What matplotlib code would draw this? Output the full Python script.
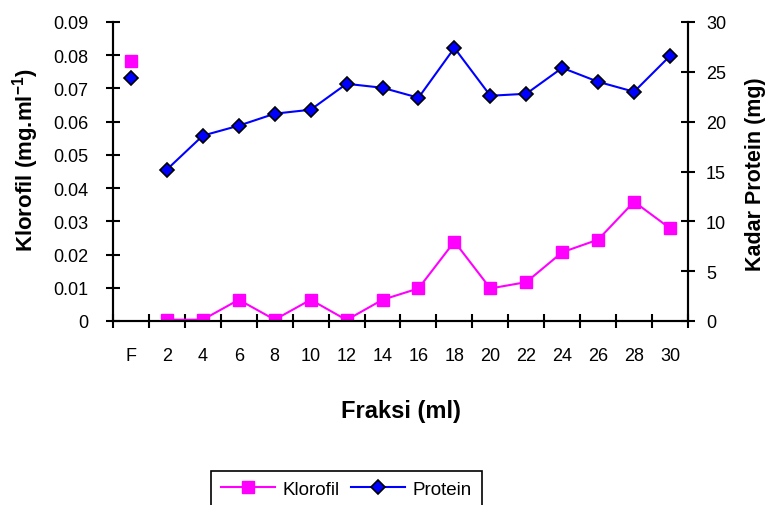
import matplotlib
matplotlib.use("Agg")
import matplotlib.pyplot as plt
import numpy as np

plt.rcParams['font.family'] = ['Liberation Sans', 'DejaVu Sans']
plt.rcParams['mathtext.fontset'] = 'custom'
plt.rcParams['mathtext.rm'] = 'Liberation Sans:bold'
plt.rcParams['mathtext.bf'] = 'Liberation Sans:bold'

# data
fraksi = ['F', '2', '4', '6', '8', '10', '12', '14', '16', '18', '20', '22', '24', '26', '28', '30']
klorofil = [0.0782, 0.0004, 0.0004, 0.0064, 0.0004, 0.0064, 0.0003, 0.0064, 0.0098,
            0.0239, 0.0098, 0.0117, 0.0207, 0.0245, 0.0359, 0.0279]
protein = [24.4, 15.2, 18.6, 19.6, 20.8, 21.2, 23.8, 23.4, 22.4,
           27.4, 22.6, 22.8, 25.4, 24.0, 23.0, 26.6]

fig = plt.figure(figsize=(7.69, 5.06), dpi=100)
ax = fig.add_axes([113/769, 1-322/506, 575/769, 299/506])
ax2 = ax.twinx()

x = np.arange(len(fraksi)) + 0.5

# F is plotted on its own (not joined to the fractions)
ax.plot(x[:1], klorofil[:1], ls='none', marker='s', ms=8.5, color='#FF00FF', mec='#FF00FF')
l1, = ax.plot(x[1:], klorofil[1:], color='#FF00FF', lw=1.5, marker='s', ms=8.5, mec='#FF00FF')
ax2.plot(x[:1], protein[:1], ls='none', marker='D', ms=7.5, color='#0000FF', mec='black', mew=1.2)
l2, = ax2.plot(x[1:], protein[1:], color='#0000FF', lw=1.5, marker='D', ms=7.5, mec='black', mew=1.2)

ax.set_xlim(0, len(fraksi))
ax.set_ylim(0, 0.09)
ax2.set_ylim(0, 30)
ax.set_yticks(np.arange(0, 0.091, 0.01))
ax.set_yticklabels(['0'] + ['%.2f' % v for v in np.arange(0.01, 0.091, 0.01)])
ax2.set_yticks(np.arange(0, 31, 5))

ax.set_xticks(np.arange(0, len(fraksi) + 1))
ax.set_xticklabels([])
ax.set_xticks(x, minor=True)
ax.set_xticklabels(fraksi, minor=True)

for a in (ax, ax2):
    a.spines['top'].set_visible(False)
    for s in a.spines.values():
        s.set_linewidth(1.5)
        s.set_color('black')
ax.tick_params(axis='both', which='major', direction='inout', length=10, width=1.5, labelsize=13)
ax.tick_params(axis='y', pad=13)
ax.tick_params(axis='x', which='minor', length=0, pad=19, labelsize=13)
ax2.tick_params(axis='y', direction='inout', length=10, width=1.5, labelsize=13, pad=8)

ax.set_xlabel('Fraksi (ml)', fontsize=17, fontweight='bold')
ax.xaxis.set_label_coords(0.5, -0.26)
ax.set_ylabel(r'Klorofil (mg.ml$^{\mathbf{-1}}$)', fontsize=16, fontweight='bold')
ax.yaxis.set_label_coords(-0.125, 0.54)
ax2.set_ylabel('Kadar Protein (mg)', fontsize=15.5, fontweight='bold', rotation=90)
ax2.yaxis.set_label_coords(1.099, 0.495)

leg = fig.legend([l1, l2], ['Klorofil', 'Protein'], loc='upper left',
                 bbox_to_anchor=(202/769, 1-463/506), ncol=2, fontsize=13.5,
                 frameon=True, fancybox=False, framealpha=1, edgecolor='black',
                 handlelength=2.9, handletextpad=0.4, columnspacing=0.6, borderpad=0.5)
leg.get_frame().set_linewidth(1.2)

fig.savefig('out.png', dpi=100)
